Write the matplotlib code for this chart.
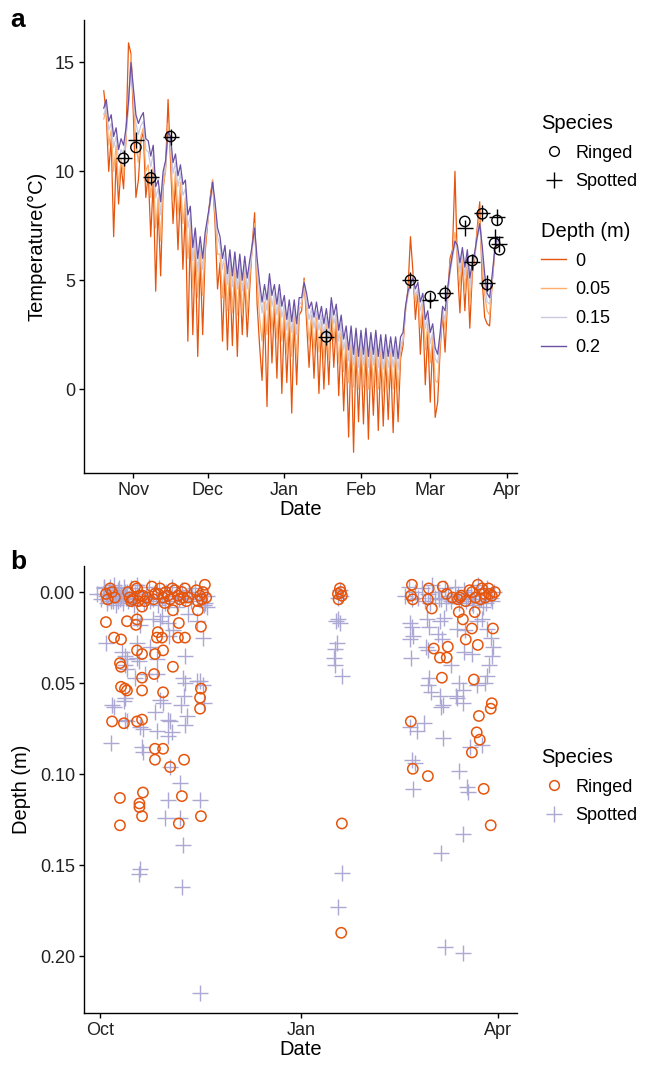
import numpy as np
import pandas as pd
import matplotlib
matplotlib.use("Agg")
import matplotlib.pyplot as plt
import matplotlib.dates as mdates
from matplotlib.lines import Line2D

plt.rcParams['font.family'] = ['Liberation Sans', 'DejaVu Sans']

# ---------------- panel a: daily temperature by depth, 20 Oct 2014 -> 28 Mar 2015
temp_start = '2014-10-20'
depth_labels = ['0', '0.05', '0.15', '0.2']
depth_colors = ['#E6550D', '#FDAE6B', '#CBC9E2', '#6A51A3']

temp_d0 = [
    13.7, 12.6, 10.0, 11.5, 7.0, 10.6, 8.5, 10.3, 9.2, 11.6, 15.9, 15.4,
    12.5, 8.8, 9.6, 11.4, 11.8, 8.8, 9.9, 7.0, 9.6, 4.5, 8.5, 5.2, 9.2, 10.2, 13.3,
    10.4, 7.6, 9.6, 6.4, 9.1, 5.5, 8.3, 2.2, 7.2, 2.5, 6.4, 1.5, 6.0, 2.5, 6.3,
    7.6, 8.8, 9.6, 7.6, 4.6, 5.8, 2.2, 5.4, 1.8, 5.2, 2.0, 5.3, 1.5, 5.2, 2.5, 5.0,
    2.4, 4.6, 6.6, 8.1, 3.9, 2.0, 0.4, 3.6, -0.8, 4.4, 1.2, 3.8, 0.5, 3.9, -0.2,
    3.3, 0.3, 3.1, -1.1, 3.2, 0.2, 3.4, 3.6, 5.1, 3.1, 1.0, 3.1, 0.5, 3.0, -0.2, 2.8,
    0.0, 2.7, 0.2, 3.5, 1.0, 3.1, -0.3, 2.4, -1.0, 1.9, -2.2, 2.0, -2.9, 1.8, -1.5,
    1.7, -1.6, 1.8, -2.3, 1.6, -1.2, 1.7, -1.9, 1.5, -1.7, 1.5, -1.4, 1.4, -2.0, 1.4,
    -1.5, 1.4, 2.0, 3.6, 4.6, 7.0, 5.4, 3.2, 4.5, 1.6, 3.6, 0.2, 2.6,
    -0.6, 2.2, -1.3, -0.6, 1.8, 3.5, 1.7, 4.1, 6.0, 6.4, 10.0, 5.6, 3.5, 5.9, 3.6,
    5.8, 2.8, 5.3, 6.0, 7.4, 8.6, 5.0, 3.3, 3.0, 2.9, 4.8, 6.2, 6.8]
temp_d05 = [
    12.4, 12.9, 11.2, 11.9, 10.0, 11.2, 9.3, 10.6, 9.8, 11.5, 13.2, 15.4,
    13.2, 11.3, 10.4, 11.6, 12.0, 10.0, 10.3, 8.8, 10.2, 7.4, 8.8, 6.8, 9.4, 10.0, 12.2,
    11.0, 8.6, 10.0, 8.0, 9.5, 7.6, 8.8, 6.0, 7.6, 4.6, 6.8, 4.2, 6.4, 4.3, 6.6,
    7.7, 8.6, 9.6, 8.0, 6.2, 6.2, 4.2, 5.8, 3.6, 5.6, 3.5, 5.6, 3.4, 5.5, 3.4, 5.4,
    3.5, 5.1, 6.4, 7.6, 5.0, 3.3, 2.2, 4.0, 2.5, 4.7, 2.7, 4.1, 2.3, 4.1, 2.2,
    3.6, 1.6, 3.4, 1.5, 3.5, 1.4, 3.7, 3.8, 5.0, 3.6, 2.2, 3.4, 1.8, 3.3, 1.7, 3.1,
    1.4, 3.0, 1.3, 3.8, 2.2, 3.3, 1.2, 2.7, 0.8, 2.2, 0.3, 2.2, 0.1, 2.1, 0.0,
    2.0, 0.1, 2.1, 0.0, 1.9, 0.1, 2.0, 0.0, 1.8, -0.1, 1.8, 0.0, 1.7, 0.0, 1.7,
    -0.1, 1.7, 2.2, 3.7, 4.4, 5.2, 5.3, 4.0, 4.6, 2.8, 3.9, 1.8, 3.0,
    1.2, 2.4, 0.4, 0.3, 2.1, 3.7, 2.7, 4.2, 5.7, 6.3, 7.2, 6.1, 4.7, 6.2, 4.4,
    6.0, 3.9, 5.5, 6.2, 7.2, 8.0, 5.8, 4.3, 3.6, 3.4, 4.9, 6.3, 6.9]
temp_d15 = [
    12.6, 13.0, 11.9, 12.2, 11.1, 11.6, 10.5, 11.0, 10.8, 11.7, 13.0, 14.9,
    13.5, 12.2, 11.7, 12.1, 12.3, 11.0, 10.9, 10.2, 10.8, 8.8, 9.2, 8.0, 9.7, 10.2, 11.6,
    11.2, 9.9, 10.4, 9.3, 9.9, 8.9, 9.2, 7.4, 8.0, 5.9, 7.0, 5.4, 6.6, 5.5, 6.9,
    7.7, 8.5, 9.4, 8.3, 7.0, 6.6, 5.5, 6.2, 4.8, 6.0, 4.7, 5.9, 4.6, 5.8, 4.5, 5.7,
    4.6, 5.5, 6.4, 7.3, 5.6, 4.4, 3.5, 4.4, 3.6, 5.0, 3.8, 4.4, 3.4, 4.4, 3.3,
    3.9, 2.7, 3.7, 2.6, 3.7, 2.5, 3.9, 4.0, 4.8, 4.0, 3.2, 3.7, 2.8, 3.6, 2.7, 3.4,
    2.5, 3.3, 2.3, 3.9, 3.0, 3.5, 2.2, 3.0, 1.8, 2.5, 1.3, 2.5, 1.1, 2.4, 1.0,
    2.3, 1.1, 2.4, 1.0, 2.2, 1.1, 2.3, 1.0, 2.1, 0.9, 2.1, 1.0, 2.0, 1.0, 2.0,
    0.9, 2.0, 2.3, 3.6, 4.3, 4.7, 5.0, 4.3, 4.6, 3.6, 4.1, 2.8, 3.3,
    2.1, 2.6, 1.4, 1.2, 2.3, 3.6, 3.2, 4.3, 5.3, 6.0, 6.7, 6.3, 5.4, 6.3, 5.2,
    6.1, 4.7, 5.6, 6.1, 6.9, 7.5, 6.2, 4.9, 4.0, 3.9, 5.0, 6.2, 6.9]
temp_d20 = [
    12.9, 13.3, 12.3, 12.6, 11.6, 12.0, 11.0, 11.5, 11.2, 12.0, 13.2, 15.0,
    13.8, 12.6, 12.2, 12.5, 12.7, 11.5, 11.4, 10.7, 11.2, 9.3, 9.6, 8.6, 10.0, 10.5, 11.8,
    11.6, 10.4, 10.8, 9.8, 10.3, 9.4, 9.6, 8.0, 8.4, 6.5, 7.4, 6.0, 7.0, 6.0, 7.2,
    7.9, 8.6, 9.5, 8.6, 7.4, 7.0, 6.0, 6.6, 5.3, 6.4, 5.2, 6.3, 5.1, 6.2, 5.0, 6.1,
    5.1, 5.9, 6.6, 7.4, 6.0, 4.9, 4.0, 4.8, 4.1, 5.3, 4.3, 4.8, 3.9, 4.8, 3.8,
    4.3, 3.2, 4.1, 3.1, 4.1, 3.0, 4.2, 4.2, 4.9, 4.4, 3.7, 4.0, 3.3, 4.0, 3.2, 3.8,
    3.0, 3.7, 2.8, 4.2, 3.4, 3.9, 2.7, 3.4, 2.3, 2.9, 1.8, 2.9, 1.6, 2.8, 1.5,
    2.7, 1.6, 2.8, 1.5, 2.6, 1.6, 2.7, 1.5, 2.5, 1.4, 2.5, 1.5, 2.4, 1.5, 2.4,
    1.4, 2.4, 2.6, 3.8, 4.5, 4.8, 5.1, 4.6, 4.9, 4.0, 4.4, 3.2, 3.6,
    2.6, 3.0, 1.9, 1.6, 2.6, 3.8, 3.6, 4.6, 5.5, 6.2, 6.8, 6.6, 5.8, 6.5, 5.6,
    6.4, 5.1, 5.8, 6.3, 7.0, 7.6, 6.6, 5.3, 4.4, 4.2, 5.2, 6.3, 7.0]

# temperature at haul-out sightings
ringed_t_dates = ['2014-10-28', '2014-11-02', '2014-11-08', '2014-11-16', '2015-01-18',
                  '2015-02-21', '2015-03-01', '2015-03-07', '2015-03-15', '2015-03-18',
                  '2015-03-22', '2015-03-24', '2015-03-28', '2015-03-27', '2015-03-29']
ringed_t = [10.6, 11.1, 9.7, 11.6, 2.4, 5.0, 4.25, 4.4, 7.7, 5.9, 8.05, 4.8, 7.75, 6.7, 6.4]
spotted_t_dates = ringed_t_dates
spotted_t = [10.6, 11.45, 9.75, 11.6, 2.4, 5.0, 4.1, 4.4, 7.4, 5.85, 8.1, 4.85, 7.9, 7.0, 6.65]

# ---------------- panel b: depth of sightings (days since 1 Oct 2014)
ringed_day = [
    2.7, 6.4, 9.6, 9.1, 9.6, 9.6, 11.4, 12.3, 5.5, 10.9, 16.9, 19.2, 9.1, 9.1, 18.0, 18.0,
    19.6, 19.2, 16.9, 19.2, 19.2, 19.2, 12.3, 16.4, 16.9, 19.2, 25.1, 28.8, 26.0, 26.4,
    28.3, 24.7, 33.3, 28.8, 25.1, 28.8, 25.1, 32.0, 38.4, 37.4, 36.0, 46.1, 36.0, 35.6,
    38.8, 33.3, 44.7, 46.1, 46.1, 45.7, 45.7,
    2.7, 4.6, 6.8, 12.8, 15.0, 16.9, 18.3, 20.5, 23.7, 25.1, 27.4, 28.8, 30.0, 32.0, 34.2,
    35.6, 37.4, 38.8, 40.2, 44.7, 45.7, 47.0, 47.9, 3.5, 5.5, 13.5, 17.5, 19.5, 24.5, 26.5,
    31.0, 36.5, 38.0, 46.5, 14.2, 16.0, 21.5, 29.5, 33.0, 39.5, 44.0, 48.5,
    108.7, 109.6, 110.5, 109.0, 110.0, 110.5, 110.2,
    142.5, 142.0, 142.9, 150.2, 149.8, 156.6, 158.4, 163.5, 164.4, 168.9, 172.6, 174.5,
    175.5, 177.5, 180.4, 165.0, 170.0, 176.0, 179.0, 161.0, 167.0, 171.5, 173.8, 178.0,
    151.6, 163.9, 171.2, 165.8, 169.9, 179.5, 167.1, 172.6, 152.5, 158.9, 155.3, 158.4,
    156.2, 170.8, 179.0, 178.5, 173.1, 142.0, 172.1, 173.5, 169.9, 142.9, 149.8, 175.3, 178.5]
ringed_depth = [
    0.0165, 0.025, 0.026, 0.039, 0.041, 0.052, 0.053, 0.054, 0.071, 0.072, 0.071, 0.070,
    0.113, 0.128, 0.116, 0.118, 0.110, 0.123, 0.032, 0.034, 0.047, 0.054, 0.016, 0.018,
    0.015, 0.008, 0.034, 0.032, 0.025, 0.022, 0.025, 0.045, 0.041, 0.055, 0.086, 0.086,
    0.092, 0.096, 0.092, 0.112, 0.127, 0.123, 0.017, 0.025, 0.025, 0.010, 0.010, 0.019,
    0.053, 0.058, 0.064,
    0.001, -0.002, 0.003, 0.0, 0.004, -0.002, 0.002, 0.005, -0.003, 0.001, -0.002, 0.003,
    0.0, 0.004, -0.001, 0.002, 0.0, -0.002, 0.003, 0.005, 0.002, 0.0, -0.004, 0.004, 0.0,
    0.003, 0.005, 0.002, 0.004, 0.001, 0.002, 0.004, 0.003, 0.004, 0.005, -0.003, 0.003,
    0.006, -0.002, 0.005, -0.001, 0.003,
    0.001, -0.002, 0.002, 0.004, 0.0, 0.127, 0.187,
    -0.004, 0.002, 0.004, -0.002, 0.004, -0.003, 0.001, 0.004, 0.003, -0.001, -0.004,
    -0.002, 0.001, -0.002, 0.0, 0.002, 0.0, 0.003, 0.002, 0.003, 0.005, 0.003, 0.004, 0.001,
    0.009, 0.011, 0.011, 0.015, 0.020, 0.020, 0.026, 0.029, 0.031, 0.030, 0.036, 0.036,
    0.047, 0.048, 0.061, 0.064, 0.068, 0.071, 0.077, 0.081, 0.088, 0.097, 0.101, 0.108, 0.128]

spotted_day = [
    2.7, 5.5, 6.4, 5.0, 10.0, 11.4, 12.3, 11.4, 12.3, 16.0, 11.4, 10.9, 11.4, 12.3, 16.9,
    17.8, 16.9, 18.3, 16.9, 18.3, 19.6, 19.2, 19.6, 18.3, 18.0, 24.2, 27.4, 28.3, 26.0,
    26.0, 25.1, 26.0, 27.4, 28.8, 31.0, 32.0, 31.0, 32.9, 31.0, 33.3, 31.5, 32.0, 31.0,
    29.7, 36.5, 36.5, 37.9, 37.4, 38.8, 37.9, 38.8, 38.4, 37.0, 39.7, 38.8, 44.3, 45.7,
    47.0, 47.5, 47.0, 45.7, 45.7, 44.3, 48.9, 5.0, 40.0, 20.5, 22.8,
    -1.2, 1.8, 2.5, 3.2, 4.0, 5.0, 5.8, 6.5, 7.2, 8.0, 8.8, 9.5, 10.3, 11.0, 11.8, 12.5,
    13.3, 14.0, 14.8, 16.0, 17.0, 18.0, 19.0, 21.0, 22.5, 24.0, 25.5, 27.0, 28.5, 30.0,
    31.5, 33.0, 34.5, 36.0, 37.5, 39.0, 40.5, 42.0, 43.5, 45.0, 46.5, 48.0, 49.0,
    0.5, 1.2, 2.0, 3.0, 3.8, 4.5, 6.0, 6.8, 7.5, 8.3, 9.0, 9.8, 10.5, 11.3, 12.0, 13.0,
    15.5, 20.0, 23.0, 26.5, 29.5, 35.0, 41.5, 47.5,
    107.8, 108.7, 109.6, 108.2, 107.4, 106.9, 107.3, 110.5, 110.5, 108.7, 108.5, 109.5, 110.2,
    139.5, 141.0, 142.5, 144.0, 145.5, 147.0, 148.5, 150.0, 151.5, 153.0, 154.5, 156.0,
    157.5, 159.0, 160.5, 162.0, 163.5, 165.0, 166.5, 168.0, 169.5, 171.0, 172.5, 174.0,
    175.5, 177.0, 178.5, 180.0, 164.2, 167.3, 170.6, 173.3, 176.2, 179.2, 150.8, 155.0,
    141.6, 142.5, 142.9, 141.6, 149.3, 150.2, 148.9, 149.8, 142.0, 155.3, 157.0, 154.4,
    156.2, 163.0, 166.7, 172.1, 174.5, 177.0, 178.5, 179.5, 179.0, 177.6, 177.0, 166.5,
    169.9, 150.2, 149.8, 151.2, 155.5, 156.0, 156.6, 163.9, 165.8, 163.0, 165.8, 162.5,
    172.1, 175.8, 148.0, 144.7, 156.6, 141.6, 142.5, 143.8, 142.9, 163.9, 167.6, 168.0,
    168.9, 174.4, 165.8, 155.7, 157.5, 165.8, 160.5, 158.0, 170.0, 175.0]
spotted_depth = [
    0.028, 0.062, 0.063, 0.083, 0.033, 0.035, 0.037, 0.040, 0.042, 0.047, 0.058, 0.060,
    0.070, 0.071, 0.036, 0.038, 0.015, 0.018, 0.028, 0.074, 0.075, 0.085, 0.088, 0.152,
    0.155, 0.015, 0.016, 0.013, 0.037, 0.045, 0.066, 0.076, 0.059, 0.061, 0.070, 0.071,
    0.079, 0.077, 0.017, 0.021, 0.024, 0.096, 0.114, 0.124, 0.105, 0.124, 0.139, 0.162,
    0.035, 0.047, 0.050, 0.057, 0.062, 0.068, 0.073, 0.049, 0.049, 0.051, 0.061, 0.025,
    0.220, 0.114, 0.016, 0.008, 0.005, 0.012, 0.045, 0.030,
    0.001, -0.003, 0.002, 0.004, -0.001, 0.003, 0.0, -0.004, 0.002, 0.005, -0.002, 0.001,
    0.004, -0.003, 0.002, 0.0, 0.003, -0.002, 0.004, 0.001, -0.004, 0.003, 0.0, 0.002,
    -0.003, 0.004, 0.001, -0.002, 0.003, 0.0, 0.005, -0.003, 0.002, 0.004, -0.001, 0.003,
    0.0, 0.002, -0.002, 0.004, 0.001, 0.006, 0.002,
    0.004, 0.001, -0.002, 0.006, 0.002, -0.003, 0.005, 0.001, 0.007, -0.001, 0.004, 0.002,
    0.006, 0.000, 0.003, 0.005, 0.007, 0.006, 0.005, 0.007, 0.006, 0.008, 0.005, 0.007,
    0.016, 0.015, 0.017, 0.028, 0.031, 0.036, 0.040, 0.046, 0.154, 0.173, 0.003, -0.001, 0.002,
    0.002, -0.003, 0.004, 0.0, 0.003, -0.002, 0.005, 0.001, -0.004, 0.003, 0.0, 0.004,
    -0.002, 0.002, 0.005, -0.003, 0.001, 0.004, -0.001, 0.003, 0.0, 0.002, -0.004, 0.004,
    0.001, -0.002, 0.003, 0.0, 0.006, 0.005, 0.007, 0.004, 0.006, 0.005, 0.006, 0.004,
    0.017, 0.019, 0.024, 0.026, 0.015, 0.019, 0.030, 0.032, 0.036, 0.016, 0.014, 0.023,
    0.026, 0.020, 0.021, 0.016, 0.015, 0.020, 0.025, 0.030, 0.035, 0.040, 0.046, 0.033,
    0.034, 0.047, 0.051, 0.055, 0.057, 0.063, 0.062, 0.050, 0.054, 0.058, 0.061, 0.057,
    0.051, 0.050, 0.072, 0.076, 0.080, 0.074, 0.092, 0.094, 0.108, 0.098, 0.107, 0.110,
    0.085, 0.084, 0.133, 0.143, 0.195, 0.198, 0.040, 0.006, 0.006, 0.008]

ringed_color = '#E6550D'
spotted_color = '#ABA8D3'

# ---------------- figure
fig = plt.figure(figsize=(6.46, 10.87), dpi=100)
ax1 = fig.add_axes([0.130, 0.5649, 0.670, 0.4167])
ax2 = fig.add_axes([0.130, 0.0681, 0.670, 0.4112])

def style_axis(ax):
    for s in ['top', 'right']:
        ax.spines[s].set_visible(False)
    for s in ['left', 'bottom']:
        ax.spines[s].set_linewidth(1.0)
    ax.tick_params(length=3.5, width=1.0, labelsize=13, colors='black', labelcolor='#222222', pad=3)

t0 = pd.Timestamp(temp_start)
for vals, lab, col in zip([temp_d0, temp_d05, temp_d15, temp_d20], depth_labels, depth_colors):
    dates = t0 + pd.to_timedelta(np.arange(len(vals)), unit='D')
    ax1.plot(dates, vals, color=col, lw=0.9, label=lab)

ax1.scatter(pd.to_datetime(ringed_t_dates), ringed_t, s=55, facecolors='none',
            edgecolors='black', linewidths=1.0, zorder=5)
ax1.scatter(pd.to_datetime(spotted_t_dates), spotted_t, s=130, marker='+',
            color='black', linewidths=1.0, zorder=5)

ax1.set_xlim(pd.Timestamp('2014-10-12'), pd.Timestamp('2015-04-05'))
ax1.set_ylim(-3.85, 16.95)
ax1.set_yticks([0, 5, 10, 15])
ax1.xaxis.set_major_locator(mdates.MonthLocator(bymonth=[11, 12, 1, 2, 3, 4]))
ax1.xaxis.set_major_formatter(mdates.DateFormatter('%b'))
style_axis(ax1)
ax1.set_xlabel('Date', fontsize=14.5, labelpad=1)
ax1.set_ylabel('Temperature(°C)', fontsize=14.5, labelpad=6)

sp_handles = [Line2D([], [], ls='none', marker='o', mfc='none', mec='black', ms=7, mew=1.0),
              Line2D([], [], ls='none', marker='+', color='black', ms=11, mew=1.0)]
fig.legend(sp_handles, ['Ringed', 'Spotted'], title='Species', loc='upper left',
           bbox_to_anchor=(541 / 646, 1 - 114 / 1087), frameon=False, fontsize=13,
           title_fontsize=14.5, handlelength=1.4, handletextpad=0.5, labelspacing=0.65,
           borderpad=0, borderaxespad=0, alignment='left')
dp_handles = [Line2D([], [], color=c, lw=1.0) for c in depth_colors]
fig.legend(dp_handles, depth_labels, title='Depth (m)', loc='upper left',
           bbox_to_anchor=(541 / 646, 1 - 222 / 1087), frameon=False, fontsize=13,
           title_fontsize=14.5, handlelength=1.4, handletextpad=0.5, labelspacing=0.65,
           borderpad=0, borderaxespad=0, alignment='left')

# panel b
d0 = pd.Timestamp('2014-10-01')
ax2.scatter(d0 + pd.to_timedelta(spotted_day, unit='D'), spotted_depth, s=130, marker='+',
            color=spotted_color, linewidths=1.0, zorder=3)
ax2.scatter(d0 + pd.to_timedelta(ringed_day, unit='D'), ringed_depth, s=55, facecolors='none',
            edgecolors=ringed_color, linewidths=1.1, zorder=4)
ax2.set_xlim(pd.Timestamp('2014-09-23 16:00'), pd.Timestamp('2015-04-09 10:00'))
ax2.set_ylim(0.231, -0.0143)
ax2.set_yticks([0, 0.05, 0.10, 0.15, 0.20])
ax2.yaxis.set_major_formatter(plt.FormatStrFormatter('%.2f'))
ax2.xaxis.set_major_locator(mdates.MonthLocator(bymonth=[1, 4, 10]))
ax2.xaxis.set_major_formatter(mdates.DateFormatter('%b'))
style_axis(ax2)
ax2.set_xlabel('Date', fontsize=14.5, labelpad=1)
ax2.set_ylabel('Depth (m)', fontsize=14.5, labelpad=6)

sp2_handles = [Line2D([], [], ls='none', marker='o', mfc='none', mec=ringed_color, ms=7, mew=1.1),
               Line2D([], [], ls='none', marker='+', color=spotted_color, ms=11, mew=1.0)]
fig.legend(sp2_handles, ['Ringed', 'Spotted'], title='Species', loc='upper left',
           bbox_to_anchor=(541 / 646, 1 - 748 / 1087), frameon=False, fontsize=13,
           title_fontsize=14.5, handlelength=1.4, handletextpad=0.5, labelspacing=0.65,
           borderpad=0, borderaxespad=0, alignment='left')

fig.text(10 / 646, 1 - 8 / 1087, 'a', fontsize=19, fontweight='bold', va='top', ha='left')
fig.text(10 / 646, 1 - 550 / 1087, 'b', fontsize=19, fontweight='bold', va='top', ha='left')

fig.savefig('out.png', dpi=100, facecolor='white')
